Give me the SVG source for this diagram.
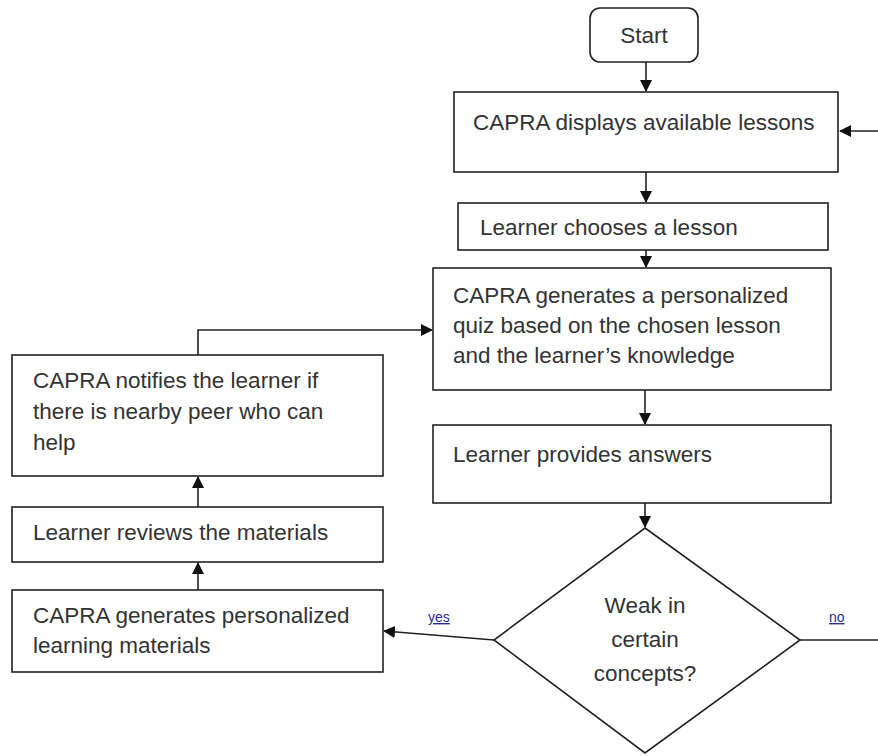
<svg xmlns="http://www.w3.org/2000/svg" width="878" height="756" viewBox="0 0 878 756">
<style>
.box{fill:#fff;stroke:#222;stroke-width:1.6}
.t{font-family:"Liberation Sans",Arial,sans-serif;font-size:22.5px;fill:#333}
.c{fill:none;stroke:#222;stroke-width:1.6}
.lbl{font-family:"Liberation Sans",Arial,sans-serif;font-size:14px;fill:#2b2b99;text-decoration:underline}
</style>
<defs>
<marker id="ah" markerWidth="12" markerHeight="12" refX="11" refY="6" orient="auto" markerUnits="userSpaceOnUse">
<path d="M0,0 L12,6 L0,12 z" fill="#111"/>
</marker>
</defs>
<rect width="878" height="756" fill="#fff"/>
<g id="connectors">
<line class="c" x1="646" y1="62" x2="646" y2="91" marker-end="url(#ah)"/>
<line class="c" x1="878" y1="131" x2="840" y2="131" marker-end="url(#ah)"/>
<line class="c" x1="646" y1="172" x2="646" y2="202" marker-end="url(#ah)"/>
<line class="c" x1="646" y1="250" x2="646" y2="267" marker-end="url(#ah)"/>
<line class="c" x1="645" y1="390" x2="645" y2="424" marker-end="url(#ah)"/>
<line class="c" x1="645" y1="503" x2="645" y2="527" marker-end="url(#ah)"/>
<line class="c" x1="494" y1="640" x2="384" y2="631" marker-end="url(#ah)"/>
<line class="c" x1="800" y1="640" x2="878" y2="640"/>
<line class="c" x1="198" y1="590" x2="198" y2="563" marker-end="url(#ah)"/>
<line class="c" x1="198" y1="507" x2="198" y2="477" marker-end="url(#ah)"/>
<polyline class="c" points="198,355 198,330 432,330" marker-end="url(#ah)"/>
</g>
<g id="start">
<rect class="box" x="590" y="8" width="108" height="54" rx="10"/>
<text class="t" x="644" y="43" text-anchor="middle">Start</text>
</g>
<g id="display-lessons">
<rect class="box" x="454" y="92" width="384" height="80"/>
<text class="t" x="473" y="130">CAPRA displays available lessons</text>
</g>
<g id="choose-lesson">
<rect class="box" x="458" y="203" width="370" height="47"/>
<text class="t" x="480" y="235">Learner chooses a lesson</text>
</g>
<g id="generate-quiz">
<rect class="box" x="433" y="268" width="398" height="122"/>
<text class="t" x="453" y="303">CAPRA generates a personalized</text>
<text class="t" x="453" y="333">quiz based on the chosen lesson</text>
<text class="t" x="453" y="363">and the learner’s knowledge</text>
</g>
<g id="provide-answers">
<rect class="box" x="433" y="425" width="398" height="78"/>
<text class="t" x="453" y="462">Learner provides answers</text>
</g>
<g id="decision">
<polygon class="box" points="645,528 800,640 645,753 494,640"/>
<text class="t" x="645" y="613" text-anchor="middle">Weak in</text>
<text class="t" x="645" y="647" text-anchor="middle">certain</text>
<text class="t" x="645" y="681" text-anchor="middle">concepts?</text>
</g>
<g id="labels">
<text class="lbl" x="428" y="622">yes</text>
<text class="lbl" x="829" y="622">no</text>
</g>
<g id="notify-peer">
<rect class="box" x="12" y="355" width="371" height="121"/>
<text class="t" x="33" y="388">CAPRA notifies the learner if</text>
<text class="t" x="33" y="419">there is nearby peer who can</text>
<text class="t" x="33" y="450">help</text>
</g>
<g id="review-materials">
<rect class="box" x="12" y="507" width="371" height="55"/>
<text class="t" x="33" y="540">Learner reviews the materials</text>
</g>
<g id="generate-materials">
<rect class="box" x="12" y="590" width="371" height="82"/>
<text class="t" x="33" y="623">CAPRA generates personalized</text>
<text class="t" x="33" y="653">learning materials</text>
</g>
</svg>
